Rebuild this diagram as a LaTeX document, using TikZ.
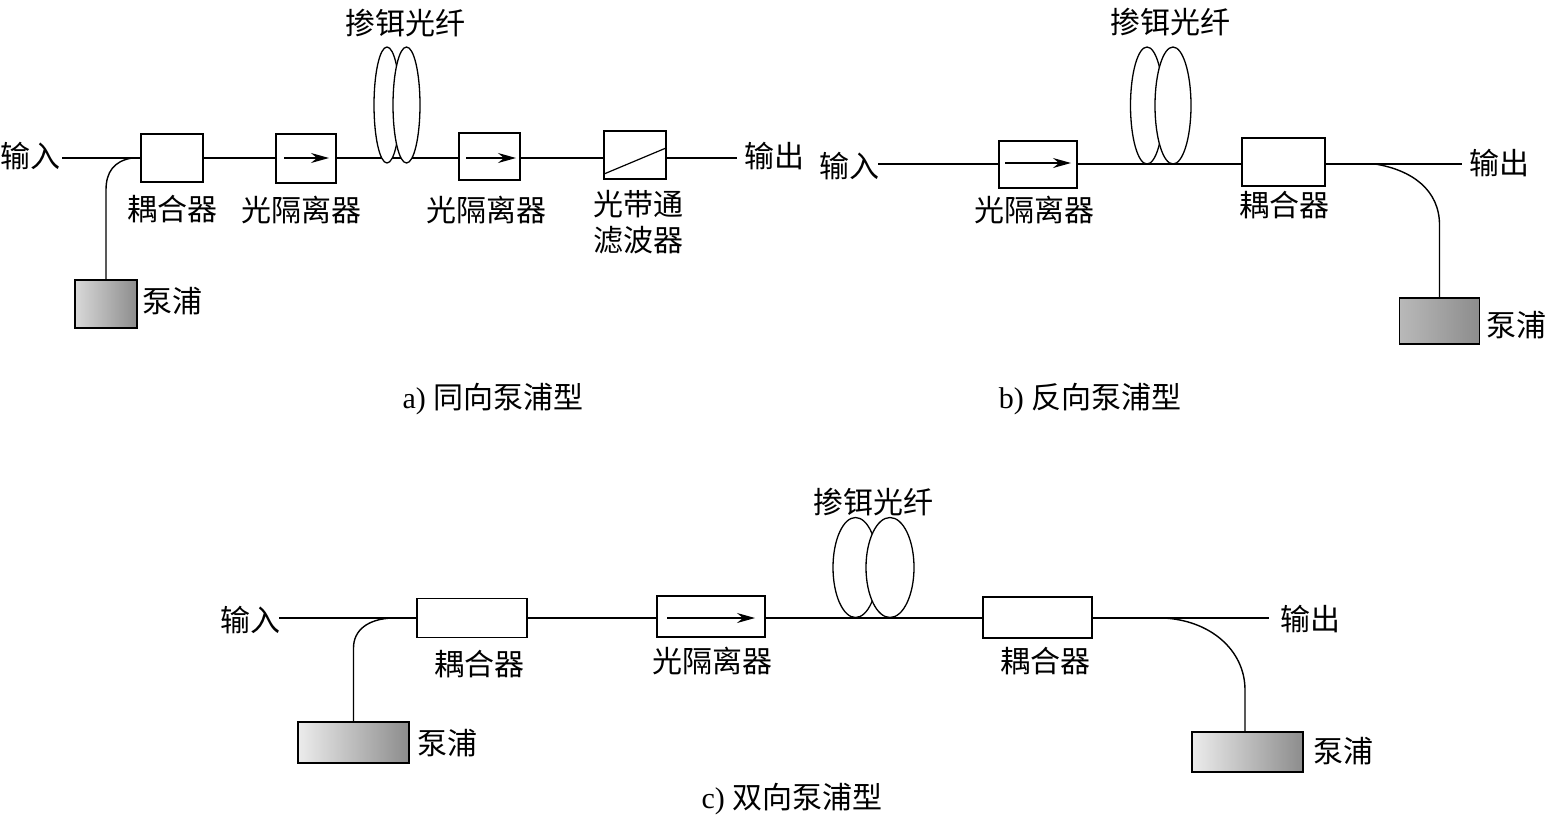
\documentclass[tikz,border=0pt]{standalone}
\usepackage{fontspec}
\setmainfont{Liberation Serif}
\newfontfamily\cjk{Noto Sans CJK SC}
\usetikzlibrary{arrows.meta,shapes.geometric}
\tikzset{
	box/.style={draw, fill=white, line width=1.4pt, inner sep=0pt, outer sep=0pt},
	pump/.style={draw, line width=1.4pt, inner sep=0pt, outer sep=0pt, left color=#1, right color=gray!90},
	coil/.style={draw, fill=white, ellipse, line width=1.3pt, inner sep=0pt, outer sep=0pt},
	fiber/.style={line width=1.4pt},
	dirarrow/.style={line width=1.4pt, -{Stealth[length=18pt, width=10pt, inset=6pt]}},
	lbl/.style={font=\cjk\fontsize{30}{36}\selectfont, inner sep=0pt, align=center},
	captext/.style={font=\fontsize{30}{34}\selectfont, inner sep=0pt}
}
\begin{document}
\begin{tikzpicture}[x=1pt, y=-1pt]
	\useasboundingbox (0, 0) rectangle (1565, 815);
	% a) pump on the input side
	\node[lbl] (inLblA) at (30, 156){输入};
	\node[lbl] (outLblA) at (774, 156){输出};
	\coordinate (inA) at (62, 158);
	\coordinate (outA) at (737, 158);
	\coordinate (joinA) at (132, 158);
	\node[box, minimum width=62, minimum height=48] (cplA) at (172, 158){};
	\node[box, minimum width=60, minimum height=49] (isoA) at (306, 158.5){};
	\node[box, minimum width=61, minimum height=47] (isoB) at (489.5, 156.5){};
	\node[box, minimum width=62, minimum height=48] (fltA) at (635, 155){};
	\node[pump=gray!30, minimum width=62, minimum height=48] (pmpA) at (106, 304){};
	\draw[fiber] (inA) -- (cplA.west |- inA);
	\draw[fiber] (cplA.east |- inA) -- (isoA.west |- inA);
	\draw[fiber] (isoA.east |- inA) -- (isoB.west |- inA);
	\draw[fiber] (isoB.east |- inA) -- (fltA.west |- inA);
	\draw[fiber] (fltA.east |- inA) -- (outA);
	\draw[fiber] (pmpA.north) -- (pmpA.north |- 0, 190) .. controls (106, 172) and (114, 161) .. (joinA);
	\draw[dirarrow] (284, 158) -- (329, 158);
	\draw[dirarrow] (466, 158) -- (516, 158);
	\draw[line width=1.2pt] (604, 174) -- (666, 148);
	\node[coil, minimum width=26, minimum height=116] (coilA) at (387, 105){};
	\node[coil, minimum width=27, minimum height=116] (coilB) at (406.5, 105){};
	\node[lbl] (dopeA) at (405, 23){掺铒光纤};
	\node[lbl] (cplLblA) at (172, 209){耦合器};
	\node[lbl] (isoLblA) at (301, 210){光隔离器};
	\node[lbl] (isoLblB) at (486, 210){光隔离器};
	\node[lbl] (fltLblA) at (638, 222){光带通\\滤波器};
	\node[lbl] (pmpLblA) at (172, 301){泵浦};
	\node[captext] (capA) at (493, 399){a) {\cjk 同向泵浦型}};
	% b) pump on the output side
	\node[lbl] (inLblB) at (849, 166){输入};
	\node[lbl] (outLblB) at (1499, 163){输出};
	\coordinate (inB) at (878, 164);
	\coordinate (outB) at (1462, 164);
	\coordinate (joinB) at (1375, 164);
	\node[box, minimum width=78, minimum height=47] (isoC) at (1038, 164.5){};
	\node[box, minimum width=83, minimum height=48] (cplB) at (1283.5, 162){};
	\node[pump=gray!55, minimum width=80, minimum height=46] (pmpB) at (1439.5, 321){};
	\draw[fiber] (inB) -- (isoC.west |- inB);
	\draw[fiber] (isoC.east |- inB) -- (cplB.west |- inB);
	\draw[fiber] (cplB.east |- inB) -- (outB);
	\draw[fiber] (pmpB.north) -- (pmpB.north |- 0, 225) .. controls (1439.5, 190) and (1412, 170) .. (joinB);
	\draw[dirarrow] (1005, 163) -- (1071, 163);
	\node[coil, minimum width=33, minimum height=117] (coilC) at (1147, 105.5){};
	\node[coil, minimum width=36, minimum height=117] (coilD) at (1173, 105.5){};
	\node[lbl] (dopeB) at (1170, 22){掺铒光纤};
	\node[lbl] (isoLblC) at (1034, 210){光隔离器};
	\node[lbl] (cplLblB) at (1284, 205){耦合器};
	\node[lbl] (pmpLblB) at (1516, 325){泵浦};
	\node[captext] (capB) at (1090, 399){b) {\cjk 反向泵浦型}};
	% c) pumps on both sides
	\node[lbl] (inLblC) at (250, 620){输入};
	\node[lbl] (outLblC) at (1310, 619){输出};
	\coordinate (inC) at (279, 618);
	\coordinate (outC) at (1269, 618);
	\coordinate (joinC) at (392, 618);
	\coordinate (joinD) at (1163, 618);
	\node[box, minimum width=110, minimum height=39] (cplC) at (472, 618){};
	\node[box, minimum width=108, minimum height=41] (isoD) at (711, 616.5){};
	\node[box, minimum width=109, minimum height=41] (cplD) at (1037.5, 617.5){};
	\node[pump=gray!15, minimum width=111, minimum height=41] (pmpC) at (353.5, 742.5){};
	\node[pump=gray!15, minimum width=111, minimum height=40] (pmpD) at (1247.5, 752){};
	\draw[fiber] (inC) -- (cplC.west |- inC);
	\draw[fiber] (cplC.east |- inC) -- (isoD.west |- inC);
	\draw[fiber] (isoD.east |- inC) -- (cplD.west |- inC);
	\draw[fiber] (cplD.east |- inC) -- (outC);
	\draw[fiber] (pmpC.north) -- (pmpC.north |- 0, 648) .. controls (353.5, 630) and (368, 619) .. (joinC);
	\draw[fiber] (pmpD.north -| 1245, 0) -- (1245, 690) .. controls (1245, 650) and (1210, 620) .. (joinD);
	\draw[dirarrow] (667, 618) -- (755, 618);
	\node[coil, minimum width=45, minimum height=100] (coilE) at (855.5, 567.5){};
	\node[coil, minimum width=48, minimum height=100] (coilF) at (890, 567.5){};
	\node[lbl] (dopeC) at (873, 502){掺铒光纤};
	\node[lbl] (cplLblC) at (479, 664){耦合器};
	\node[lbl] (isoLblD) at (712, 661){光隔离器};
	\node[lbl] (cplLblD) at (1045, 661){耦合器};
	\node[lbl] (pmpLblC) at (447, 743){泵浦};
	\node[lbl] (pmpLblD) at (1343, 751){泵浦};
	\node[captext] (capC) at (792, 799){c) {\cjk 双向泵浦型}};
\end{tikzpicture}
\end{document}
